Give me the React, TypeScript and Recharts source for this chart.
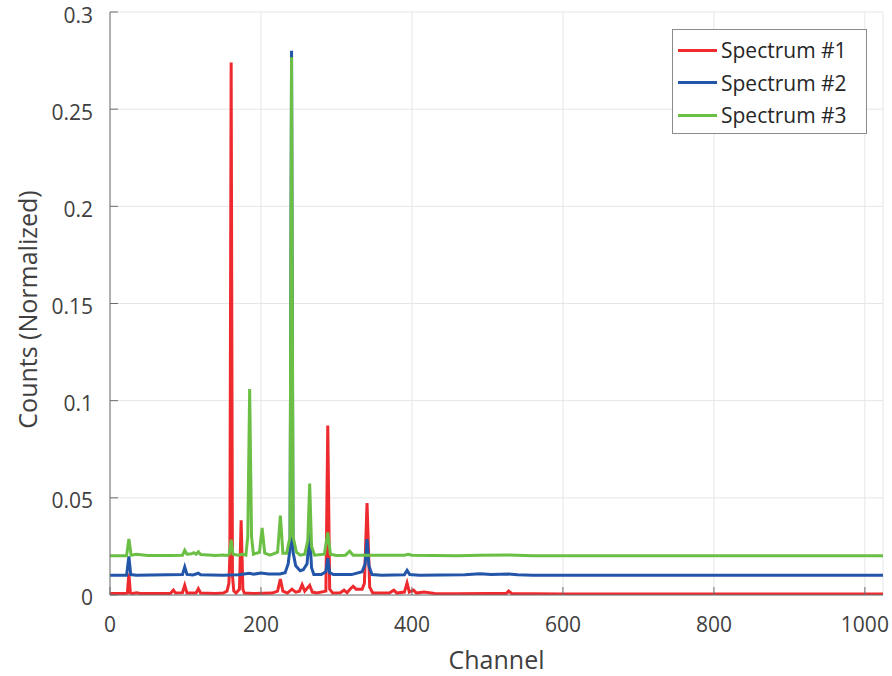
import React from 'react'
import { LineChart, Line, XAxis, YAxis, CartesianGrid, Legend, Label } from 'recharts'

// channel positions and normalized counts
const spec1Channels = [0, 20, 23, 25, 27, 30, 35, 40, 80, 84, 87, 96, 99, 102, 114, 117, 120, 140, 150, 155, 157.5, 158.8, 160.5, 162.2, 164, 167, 171.5, 173.7, 176, 178, 190, 215, 222, 225.7, 229, 235, 241, 246, 251, 254.5, 258, 264.5, 268, 274, 286, 288.5, 291, 295, 305, 310, 314, 318, 322, 326, 334, 337, 340.5, 344, 348, 370, 376, 380, 390, 393.5, 396.5, 402, 406, 416, 430, 460, 500, 525, 528, 532, 560, 600, 1024]
const spec1Values = [0.0008, 0.0008, 0.001, 0.011, 0.001, 0.0008, 0.0012, 0.0008, 0.0008, 0.0025, 0.001, 0.0012, 0.005, 0.001, 0.001, 0.0032, 0.001, 0.0008, 0.001, 0.002, 0.006, 0.02, 0.274, 0.01, 0.002, 0.001, 0.003, 0.0384, 0.003, 0.001, 0.0008, 0.001, 0.002, 0.0082, 0.002, 0.001, 0.003, 0.0015, 0.002, 0.0053, 0.002, 0.005, 0.0015, 0.001, 0.002, 0.0872, 0.003, 0.001, 0.0012, 0.0025, 0.0012, 0.003, 0.0045, 0.003, 0.003, 0.006, 0.0473, 0.004, 0.001, 0.001, 0.0025, 0.001, 0.0015, 0.0062, 0.0015, 0.0025, 0.001, 0.0015, 0.0008, 0.0006, 0.0008, 0.0008, 0.002, 0.0008, 0.0006, 0.0005, 0.0005]

const spec2Channels = [0, 22, 25, 27.5, 35, 96, 99, 102, 110, 117, 120, 150, 170, 185, 190, 200, 210, 225, 232, 236, 238.5, 240.5, 242.5, 246, 252, 256, 261, 264.5, 267, 270, 280, 286, 288.5, 291, 296, 320, 334, 338, 340.5, 343, 347, 360, 390, 393.5, 397, 410, 470, 490, 505, 528, 540, 560, 1024]
const spec2Values = [0.0102, 0.0102, 0.0199, 0.0105, 0.0102, 0.0105, 0.0144, 0.0106, 0.0103, 0.0112, 0.0104, 0.0102, 0.0104, 0.0112, 0.0107, 0.0113, 0.0108, 0.0108, 0.0115, 0.016, 0.024, 0.28, 0.022, 0.015, 0.0125, 0.013, 0.016, 0.032, 0.014, 0.0105, 0.0105, 0.012, 0.019, 0.0115, 0.0105, 0.0105, 0.012, 0.016, 0.0288, 0.015, 0.0105, 0.0102, 0.0104, 0.0127, 0.0105, 0.0102, 0.0104, 0.0109, 0.0105, 0.0108, 0.0104, 0.0102, 0.0102]

const spec3Channels = [0, 22, 25, 28, 35, 50, 80, 96, 99, 102, 108, 111, 114, 117, 120, 140, 150, 155, 158, 160.5, 163, 170, 175, 180, 182.5, 185, 187.5, 190, 198, 201.5, 205, 212, 222, 225.7, 229, 234, 238.5, 240.5, 242.5, 247, 252, 258, 262, 264.5, 267, 271, 284, 288.5, 292, 300, 312, 317.5, 322, 340, 390, 395, 400, 460, 490, 528, 560, 1024]
const spec3Values = [0.0202, 0.0202, 0.0288, 0.0205, 0.021, 0.0203, 0.0203, 0.0205, 0.023, 0.021, 0.0212, 0.0218, 0.021, 0.0222, 0.0208, 0.0203, 0.0206, 0.0203, 0.021, 0.0284, 0.021, 0.0205, 0.021, 0.0205, 0.03, 0.106, 0.03, 0.021, 0.022, 0.0345, 0.0215, 0.0205, 0.022, 0.0408, 0.0215, 0.0215, 0.03, 0.2767, 0.03, 0.022, 0.0205, 0.021, 0.028, 0.0573, 0.025, 0.0205, 0.021, 0.0322, 0.021, 0.0203, 0.0205, 0.0225, 0.0205, 0.0205, 0.0205, 0.021, 0.0205, 0.0202, 0.0205, 0.0206, 0.0202, 0.0202]

const xTicks = [0, 200, 400, 600, 800, 1000]
const yTicks = [0, 0.05, 0.1, 0.15, 0.2, 0.25, 0.3]
const yTickLabels = ['0', '0.05', '0.1', '0.15', '0.2', '0.25', '0.3']

const toPoints = (chs: number[], vals: number[]) => chs.map((ch, i) => ({ ch, v: vals[i] }))

const series = [
  { name: 'Spectrum #1', color: '#ee2a2e', data: toPoints(spec1Channels, spec1Values) },
  { name: 'Spectrum #2', color: '#2356a8', data: toPoints(spec2Channels, spec2Values) },
  { name: 'Spectrum #3', color: '#6cbf45', data: toPoints(spec3Channels, spec3Values) },
]

const FONT = '"Open Sans", "Noto Sans", sans-serif'
const TEXT = '#404040'
const AXIS = '#6e6e6e'

const LegendBox = (props: any) => {
  const items = props.payload || []
  return (
    <div style={{ border: '1px solid #8c8c8c', background: '#fff', padding: '4px 0 4px 5px', fontFamily: FONT, boxSizing: 'border-box', height: 105 }}>
      {items.map((it: any) => (
        <div key={it.value} style={{ display: 'flex', alignItems: 'center', height: 32.5 }}>
          <span style={{ display: 'inline-block', width: 39, height: 3, background: it.color, marginRight: 4 }} />
          <span style={{ fontSize: 21, color: '#262626' }}>{it.value}</span>
        </div>
      ))}
    </div>
  )
}

const YTitle = (props: any) => {
  const { viewBox } = props
  const cx = 27
  const cy = viewBox.y + viewBox.height / 2 + 6
  return (
    <text x={cx} y={cy} transform={`rotate(-90, ${cx}, ${cy})`} textAnchor="middle" dominantBaseline="central"
      fontSize={25} fill={TEXT} fontFamily={FONT}>
      Counts (Normalized)
    </text>
  )
}

const XTitle = (props: any) => {
  const { viewBox } = props
  return (
    <text x={viewBox.x + viewBox.width / 2} y={669} textAnchor="middle" fontSize={25} fill={TEXT} fontFamily={FONT}>
      Channel
    </text>
  )
}

export default function App() {
  return (
    <div style={{ position: 'absolute', left: 0, top: 0, width: 892, height: 676, background: '#fff' }}>
      <LineChart width={892} height={676} margin={{ top: 12, right: 9, left: 10, bottom: 0 }}>
        <CartesianGrid stroke="#e6e6e6" strokeWidth={1} />
        <XAxis
          dataKey="ch"
          type="number"
          domain={[0, 1024]}
          ticks={xTicks}
          allowDataOverflow
          height={81}
          tickSize={-8}
          tickMargin={30}
          stroke={AXIS}
          tick={{ fill: TEXT, fontSize: 21, fontFamily: FONT }}
        >
          <Label content={<XTitle />} />
        </XAxis>
        <YAxis
          type="number"
          domain={[0, 0.3]}
          ticks={yTicks}
          allowDataOverflow
          width={100}
          tickSize={-8}
          tickMargin={25}
          stroke={AXIS}
          tickFormatter={(v: number) => yTickLabels[yTicks.indexOf(v)] ?? String(v)}
          tick={{ fill: TEXT, fontSize: 21, fontFamily: FONT, dy: 3 }}
        >
          <Label content={<YTitle />} />
        </YAxis>
        <Legend
          layout="vertical"
          verticalAlign="middle"
          align="center"
          content={<LegendBox />}
          wrapperStyle={{ top: 29, left: 672, width: 195 }}
        />
        {series.map(s => (
          <Line
            key={s.name}
            name={s.name}
            data={s.data}
            dataKey="v"
            type="linear"
            stroke={s.color}
            strokeWidth={3}
            dot={false}
            activeDot={false}
            isAnimationActive={false}
          />
        ))}
      </LineChart>
    </div>
  )
}
